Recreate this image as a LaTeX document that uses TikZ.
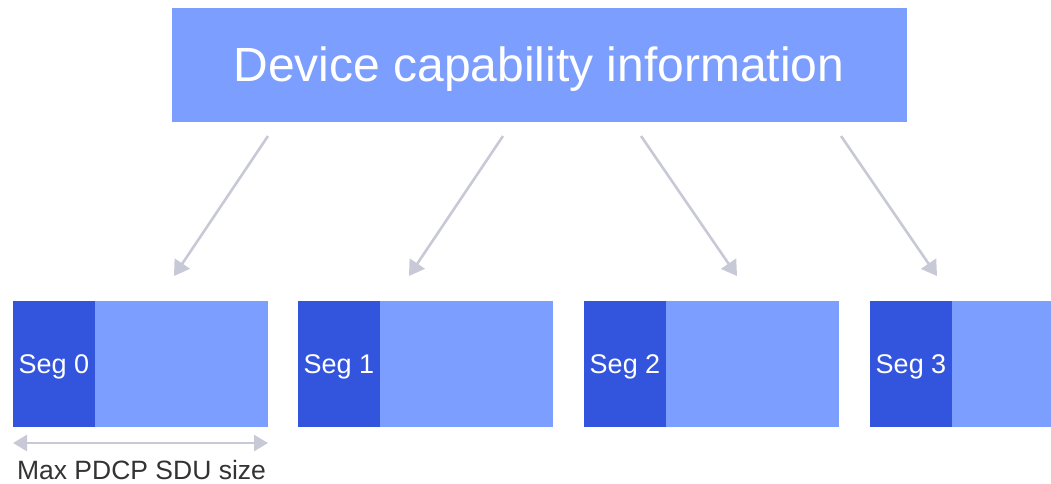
\documentclass[tikz,border=0pt]{standalone}
\usepackage{fontspec}
\setmainfont{Liberation Sans}
\usetikzlibrary{arrows.meta}
\definecolor{lightblue}{HTML}{7B9EFF}
\definecolor{darkblue}{HTML}{3355DD}
\definecolor{arrowgray}{HTML}{C8C9D6}
\definecolor{textgray}{HTML}{333333}
\begin{document}
\begin{tikzpicture}[x=1pt,y=-1pt,
  light/.style={fill=lightblue,draw=none,inner sep=0pt,outer sep=0pt},
  dark/.style={fill=darkblue,draw=none,inner sep=0pt,outer sep=0pt},
  conn/.style={draw=arrowgray,line width=2.6pt,-{Triangle[length=15pt,width=18pt]}},
  dim/.style={draw=arrowgray,line width=2.6pt,{Triangle[length=14pt,width=16pt]}-{Triangle[length=14pt,width=16pt]}}]
\useasboundingbox (0,0) rectangle (1051,483);
\node[light,minimum width=735pt,minimum height=114pt] (top) at (539.5,65) {};
\node[text=white,font=\fontsize{48}{54}\selectfont,inner sep=0pt] (title) at (539,69) {Device capability information};
\foreach \i/\x in {0/13,1/298,2/584,3/870}{
  \node[light,anchor=north west,minimum width=255pt,minimum height=126pt] (seg\i) at (\x,301) {};
  \node[dark,anchor=north west,minimum width=82pt,minimum height=126pt] (d\i) at (\x,301) {};
  \node[text=white,font=\fontsize{27}{30}\selectfont,inner sep=0pt] (t\i) at (\x+41,367) {Seg \i};
}
\coordinate (s0) at (268,136); \coordinate (e0) at (174,276);
\coordinate (s1) at (503,136); \coordinate (e1) at (409,276);
\coordinate (s2) at (641,136); \coordinate (e2) at (737,276);
\coordinate (s3) at (841,136); \coordinate (e3) at (937,276);
\foreach \i in {0,...,3}{\draw[conn] (s\i) -- (e\i);}
\coordinate (ml) at (13,443); \coordinate (mr) at (268,443);
\draw[dim] (ml) -- (mr);
\node[text=textgray,font=\fontsize{26.5}{30}\selectfont,inner sep=0pt,anchor=base] (lbl) at (141.5,479) {Max PDCP SDU size};
\end{tikzpicture}
\end{document}
